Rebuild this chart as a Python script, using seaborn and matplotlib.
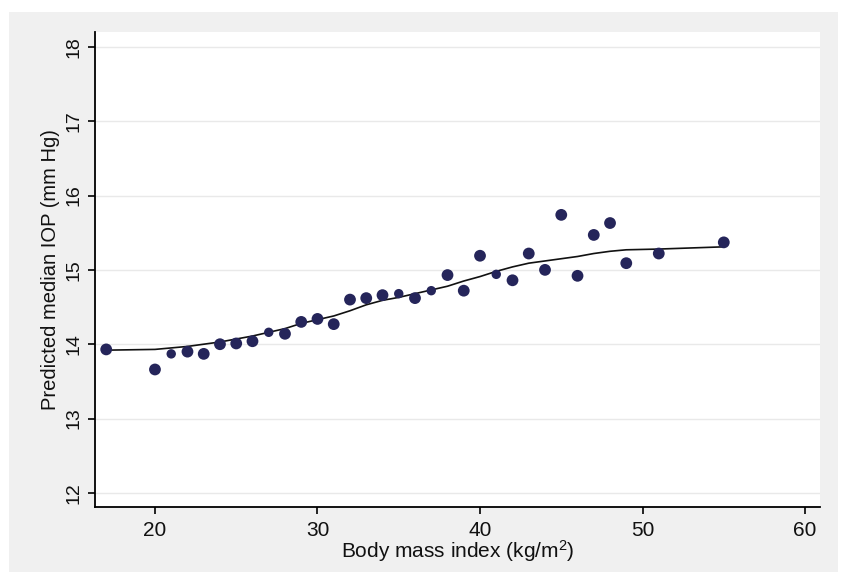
import matplotlib
matplotlib.use("Agg")
import matplotlib.pyplot as plt
import seaborn as sns
import pandas as pd
from matplotlib.patches import Rectangle

# ---- data ----
bmi = [17, 20, 21, 22, 23, 24, 25, 26, 27, 28, 29, 30, 31, 32, 33, 34, 35,
       36, 37, 38, 39, 40, 41, 42, 43, 44, 45, 46, 47, 48, 49, 51, 55]
iop = [13.93, 13.66, 13.87, 13.90, 13.87, 14.00, 14.01, 14.04, 14.16, 14.14,
       14.30, 14.34, 14.27, 14.60, 14.62, 14.66, 14.68, 14.62, 14.72, 14.93,
       14.72, 15.19, 14.94, 14.86, 15.22, 15.00, 15.74, 14.92, 15.47, 15.63,
       15.09, 15.22, 15.37]
fitted = [13.92, 13.93, 13.95, 13.97, 14.00, 14.03, 14.07, 14.11, 14.16, 14.21,
          14.28, 14.33, 14.38, 14.45, 14.53, 14.59, 14.63, 14.68, 14.73, 14.78,
          14.85, 14.91, 14.98, 15.04, 15.09, 15.12, 15.15, 15.18, 15.22, 15.25,
          15.27, 15.28, 15.31]
small_points = [21, 27, 35, 37, 41]
x_ticks = [20, 30, 40, 50, 60]
y_ticks = [12, 13, 14, 15, 16, 17, 18]

df = pd.DataFrame({"bmi": bmi, "iop": iop, "fitted": fitted})
df["size"] = ["small" if b in small_points else "big" for b in bmi]

sns.set_style("white")
plt.rcParams["font.family"] = ["Liberation Sans", "DejaVu Sans"]
plt.rcParams["mathtext.fontset"] = "custom"
plt.rcParams["mathtext.rm"] = "Liberation Sans"
plt.rcParams["mathtext.it"] = "Liberation Sans"

W, H = 848, 588
fig = plt.figure(figsize=(W / 100, H / 100), dpi=100)
fig.patch.set_facecolor("white")
bg = Rectangle((9 / W, (H - 572) / H), (838 - 9) / W, (572 - 12) / H,
               transform=fig.transFigure, facecolor="#f0f0f0",
               edgecolor="none", zorder=-10)
fig.add_artist(bg)

ax = fig.add_axes([95 / W, (H - 507) / H, (820 - 95) / W, (507 - 32) / H])
ax.set_zorder(1)
ax.set_facecolor("white")

for yt in y_ticks:
    ax.axhline(yt, color="#e9e9e9", lw=1.0, zorder=0)

marker_color = "#25255a"
sns.lineplot(data=df, x="bmi", y="fitted", ax=ax, color="#111111", lw=1.2,
             zorder=2, legend=False)
sns.scatterplot(data=df, x="bmi", y="iop", size="size",
                sizes={"big": 72, "small": 46}, ax=ax, color=marker_color,
                edgecolor=marker_color, linewidth=0, zorder=3, legend=False)

ax.set_xlim(16.31, 60.92)
ax.set_ylim(11.81, 18.2)
ax.set_xticks(x_ticks)
ax.set_yticks(y_ticks)
ax.set_xticklabels([str(v) for v in x_ticks], fontsize=15)
ax.set_yticklabels([str(v) for v in y_ticks], fontsize=14, rotation=90,
                   va="center")

for s in ["top", "right"]:
    ax.spines[s].set_visible(False)
for s in ["left", "bottom"]:
    ax.spines[s].set_color("black")
    ax.spines[s].set_linewidth(1.3)

ax.tick_params(axis="both", direction="out", length=5, width=1.2,
               color="black", labelcolor="#111111", left=True, bottom=True)
ax.tick_params(axis="x", pad=5)
ax.tick_params(axis="y", pad=4)

ax.set_xlabel(r"Body mass index (kg/m$^2$)", fontsize=15, color="#111111",
              labelpad=-1)
ax.set_ylabel("Predicted median IOP (mm Hg)", fontsize=14.5, color="#111111",
              labelpad=4)

fig.savefig("out.png", dpi=100, facecolor="white")
